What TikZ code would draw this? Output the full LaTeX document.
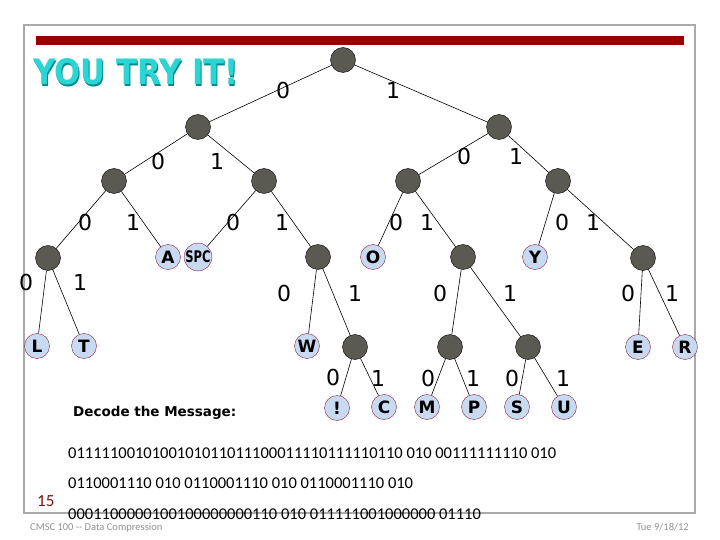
\documentclass[tikz,border=0pt]{standalone}
\usepackage{fontspec}
\setmainfont{Carlito}
\newfontfamily\comicfont{DejaVu Sans}
\definecolor{barred}{RGB}{153,0,0}
\definecolor{framegray}{RGB}{170,170,170}
\definecolor{knotgray}{RGB}{90,89,82}
\definecolor{leafblue}{RGB}{200,218,242}
\definecolor{leafrim}{RGB}{140,30,60}
\definecolor{trycyan}{RGB}{45,212,212}
\definecolor{tryshade}{RGB}{0,140,140}
\definecolor{slidenum}{RGB}{120,20,20}
\tikzset{
  knot/.style={circle,draw=black,fill=knotgray,minimum size=25pt,inner sep=0pt},
  leafnode/.style={circle,draw=leafrim,fill=leafblue,minimum size=25pt,inner sep=0pt,
    font=\comicfont\bfseries\fontsize{17}{17}\selectfont},
  bitlabel/.style={font=\comicfont\fontsize{22}{22}\selectfont,inner sep=0pt},
  codeline/.style={anchor=base west,inner sep=0pt,font=\fontsize{16.5}{16.5}\selectfont}
}
\begin{document}
\begin{tikzpicture}[>=stealth,x=1pt,y=-1pt]
    \useasboundingbox (0,0) rectangle (720,540);
    % slide frame and bar
    \draw[framegray,line width=1.6pt] (24,25) rectangle (695,513);
    \fill[barred] (36,36) rectangle (684,45);
    % title
    \node[font=\comicfont\bfseries\fontsize{35}{35}\selectfont,text=tryshade,anchor=base west,inner sep=0pt,xscale=0.88] (titleshade) at (34.2,86.2) {YOU TRY IT!};
    \node[font=\comicfont\bfseries\fontsize{35}{35}\selectfont,text=trycyan,anchor=base west,inner sep=0pt,xscale=0.88] (title) at (33,85) {YOU TRY IT!};
    % inner nodes of the tree
    \foreach \x/\y/\n in {343/60/root, 198/127/n0, 499/127/n1, 114/181/n00, 264/181/n01,
        408/181/n10, 558/181/n11, 48/258/n000, 318/257/n011, 463/257/n101, 643/258/n111,
        355/347/n0111, 450/347/n1010, 528/347/n1011}
      \node[knot] (\n) at (\x,\y) {};
    % leaves
    \foreach \x/\y/\n/\t in {168/257/lA/A, 373/257/lO/O, 535/257/lY/Y, 37/346/lL/L, 84/346/lT/T,
        307/346/lW/W, 638/347/lE/E, 685/347/lR/R, 337/408/lX/!, 384/407/lC/C, 427/407/lM/M,
        474/407/lP/P, 517/407/lS/S, 564/407/lU/U}
      \node[leafnode] (\n) at (\x,\y) {\t};
    \node[leafnode,font=\comicfont\bfseries\fontsize{16}{16}\selectfont] (lSPC) at (198,257) {\scalebox{0.72}[1]{SPC}};
    % branches
    \foreach \a/\b in {root/n0, root/n1, n0/n00, n0/n01, n1/n10, n1/n11, n00/n000, n00/lA,
        n01/lSPC, n01/n011, n10/lO, n10/n101, n11/lY, n11/n111, n000/lL, n000/lT,
        n011/lW, n011/n0111, n101/n1010, n101/n1011, n111/lE, n111/lR, n0111/lX, n0111/lC,
        n1010/lM, n1010/lP, n1011/lS, n1011/lU}
      \draw[line width=0.6pt] (\a) -- (\b);
    % bit labels
    \foreach \x/\y/\b [count=\i] in {283/90/0, 393/90/1, 158/161/0, 217/161/1, 464/156/0, 516/156/1,
        85/222/0, 133/222/1, 233/222/0, 282/222/1, 396/222/0, 427/222/1, 562/222/0, 593/222/1,
        26/282/0, 80/282/1, 284/293/0, 355/293/1, 440/293/0, 510/293/1, 628/293/0, 672/293/1,
        333/377/0, 378/378/1, 428/378/0, 473/378/1, 512/378/0, 563/378/1}
      \node[bitlabel] (bit\i) at (\x,\y) {\b};
    % message
    \node[font=\comicfont\bfseries\fontsize{13.5}{13.5}\selectfont,anchor=west,inner sep=0pt] (decode) at (73,413) {Decode the Message:};
    \node[codeline] (code1) at (68,458) {0111110010100101011011100011110111110110 010 00111111110 010};
    \node[codeline] (code2) at (68,488) {0110001110 010 0110001110 010 0110001110 010};
    \node[codeline] (code3) at (68,519) {0001100000100100000000110 010 011111001000000 01110};
    % footer
    \node[text=slidenum,font=\fontsize{17}{17}\selectfont,anchor=base west,inner sep=0pt] (pagenum) at (37,506) {15};
    \node[text=framegray!85!black,font=\fontsize{10.5}{10.5}\selectfont,anchor=base west,inner sep=0pt] (course) at (30,530) {CMSC 100 {-}{-} Data Compression};
    \node[text=framegray!85!black,font=\fontsize{10.5}{10.5}\selectfont,anchor=base east,inner sep=0pt] (date) at (689,530) {Tue 9/18/12};
\end{tikzpicture}
\end{document}
